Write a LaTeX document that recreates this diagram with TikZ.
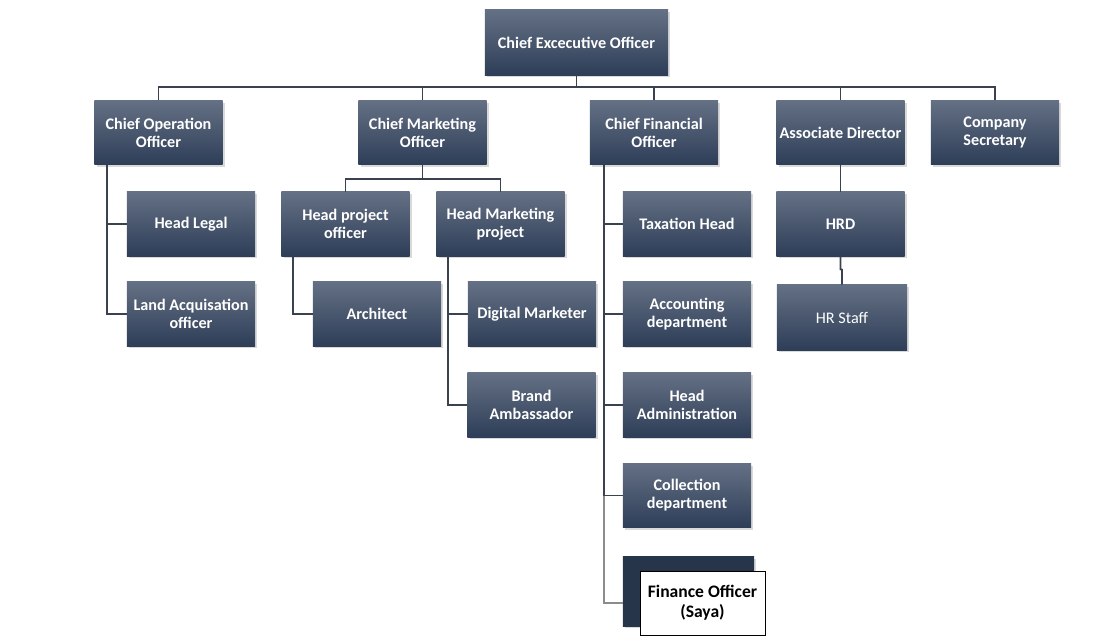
\documentclass[tikz,border=0pt]{standalone}
\usepackage{fontspec}
\setmainfont{Carlito}
\usepackage{tikz}
\usetikzlibrary{calc,shadows}
\definecolor{boxtop}{RGB}{100,112,132}
\definecolor{boxbot}{RGB}{46,62,88}
\definecolor{linkcol}{RGB}{58,66,80}
\tikzset{
	post/.style={rectangle, minimum width=3.2cm, minimum height=1.6cm, inner sep=1pt, top color=boxtop, bottom color=boxbot, text=white, align=center, font=\fontsize{11.5}{12.8}\selectfont\bfseries, drop shadow={shadow xshift=1.5pt, shadow yshift=-1.5pt, opacity=0.3}},
	link/.style={draw=linkcol, line width=1.4pt},
	paleLink/.style={draw=black!45, line width=1.5pt}
}

\begin{document}
\begin{tikzpicture}[x=0.025cm, y=-0.025cm]
			%%%%% START %%%%%
			
			\useasboundingbox (0, 0) rectangle (1113, 636);
			
			\node[post, minimum width=4.575cm, minimum height=1.625cm] (ceo) at (576.5, 42.5) {Chief Excecutive Officer};
			
			\node[post] (coo) at (158.5, 132.5) {Chief Operation\\Officer};
			\node[post] (cmo) at (422.5, 132.5) {Chief Marketing\\Officer};
			\node[post] (cfo) at (654, 132.5) {Chief Financial\\Officer};
			\node[post] (ad) at (840.5, 132.5) {Associate Director};
			\node[post] (cs) at (995, 132.5) {Company\\Secretary};
			
			\node[post] (hl) at (191, 224) {Head Legal};
			\node[post] (la) at (191, 314) {Land Acquisation\\officer};
			
			\node[post] (hpo) at (345.5, 224) {Head project\\officer};
			\node[post] (hmp) at (500.5, 224) {Head Marketing\\project};
			\node[post] (arch) at (377, 314) {Architect};
			\node[post] (dm) at (532, 314) {Digital Marketer};
			\node[post] (ba) at (531.5, 405) {Brand\\Ambassador};
			
			\node[post] (th) at (687, 224) {Taxation Head};
			\node[post] (acc) at (687, 314) {Accounting\\department};
			\node[post] (had) at (687, 405) {Head\\Administration};
			\node[post] (col) at (687, 495.5) {Collection\\department};
			\node[post, top color=boxbot!85!black, bottom color=boxbot!85!black, minimum width=3.275cm, minimum height=1.725cm] (fin) at (688.5, 591.5) {};
			\node[draw=black, line width=0.6pt, fill=white, text=black, minimum width=3.125cm, minimum height=1.6cm, align=center, font=\fontsize{12.5}{14.5}\selectfont\bfseries] (fo) at (702.5, 603) {Finance Officer\\(Saya)};
			
			\node[post] (hrd) at (840.5, 224) {HRD};
			\node[post, font=\fontsize{11.5}{12.8}\selectfont, minimum width=3.25cm, minimum height=1.625cm] (hrs) at (842, 317.5) {HR Staff};
			
			% top level
			\coordinate (bus) at (576.5, 87);
			\draw[link] (ceo.south) -- (bus);
			\draw[link] (coo.north) |- (bus) -| (cs.north);
			\draw[link] (cmo.north) -- (cmo.north |- bus);
			\draw[link] (cfo.north) -- (cfo.north |- bus);
			\draw[link] (ad.north) -- (ad.north |- bus);
			
			% operation
			\coordinate (cooL) at ($(coo.south west)+(13, 0)$);
			\draw[link] (cooL) |- (hl.west);
			\draw[link] (cooL) |- (la.west);
			
			% marketing
			\draw[link] (cmo.south) -- ($(cmo.south)+(0, 14)$);
			\draw[link] (hpo.north) |- ($(cmo.south)+(0, 14)$) -| (hmp.north);
			\draw[link] ($(hpo.south west)+(12, 0)$) |- (arch.west);
			\coordinate (hmpL) at ($(hmp.south west)+(12, 0)$);
			\draw[link] (hmpL) |- (dm.west);
			\draw[link] (hmpL) |- (ba.west);
			
			% financial
			\coordinate (cfoL) at ($(cfo.south west)+(14, 0)$);
			\draw[link] (cfoL) |- (th.west);
			\draw[link] (cfoL) |- (acc.west);
			\draw[link] (cfoL) |- (had.west);
			\draw[link] (cfoL) |- (col.west);
			\draw[paleLink] (cfoL |- col.west) |- (fin.west |- fo.west);
			
			% associate director
			\draw[link] (ad.south) -- (hrd.north);
			\draw[link] (hrd.south) -- ($(hrd.south)+(0, 13)$) -- ($(hrs.north)+(0, -15)$) -- (hrs.north);
			
			%%%%% END %%%%%
		\end{tikzpicture}
\end{document}
